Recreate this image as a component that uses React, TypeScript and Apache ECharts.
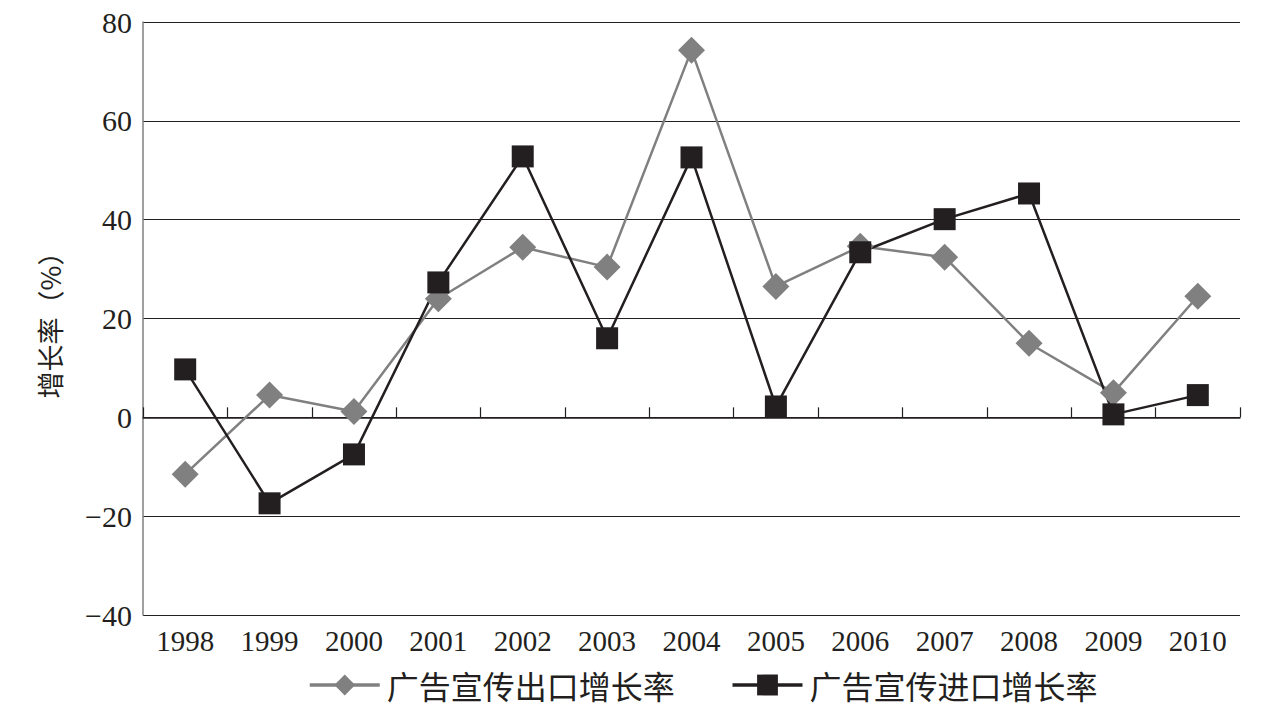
import React, { useEffect, useRef } from "react";
import * as echarts from "echarts";

const years = ["1998", "1999", "2000", "2001", "2002", "2003", "2004", "2005", "2006", "2007", "2008", "2009", "2010"];
const exportGrowth = [-11.5, 4.5, 1.2, 24, 34.4, 30.4, 74.3, 26.5, 34.6, 32.4, 15, 5, 24.5];
const importGrowth = [9.7, -17.4, -7.5, 27.3, 52.8, 16, 52.6, 2.2, 33.4, 40.1, 45.3, 0.6, 4.5];
const exportName = "广告宣传出口增长率";
const importName = "广告宣传进口增长率";
const yAxisName = "增长率（%）";

const serif = "Liberation Serif";
const cjk = "Noto Sans CJK SC";

export default function App() {
  const ref = useRef<HTMLDivElement>(null);
  useEffect(() => {
    if (!ref.current) return;
    const chart = echarts.init(ref.current, null, { renderer: "svg" });
    chart.setOption({
      animation: false,
      backgroundColor: "#ffffff",
      textStyle: { fontFamily: serif },
      grid: { left: 143, right: 42, top: 22, bottom: 105 },
      legend: {
        left: 303,
        top: 664,
        itemWidth: 70,
        itemHeight: 26,
        itemGap: 56,
        lineStyle: { width: 3.5 },
        textStyle: { fontFamily: cjk, fontSize: 32, color: "#231f20", padding: [0, 0, 0, 2] },
        data: [exportName, importName],
      },
      xAxis: [
        {
          type: "category",
          data: years,
          boundaryGap: true,
          axisLine: { show: true, onZero: true, lineStyle: { color: "#231f20", width: 1.5 } },
          axisTick: { show: true, inside: true, length: 10, lineStyle: { color: "#231f20", width: 1.2 } },
          axisLabel: { show: false },
          splitLine: { show: false },
        },
        {
          type: "category",
          data: years,
          position: "bottom",
          boundaryGap: true,
          axisLine: { show: false, onZero: false },
          axisTick: { show: false },
          axisLabel: { show: true, margin: 11, fontFamily: serif, fontSize: 29, color: "#231f20" },
          splitLine: { show: false },
        },
      ],
      yAxis: {
        type: "value",
        min: -40,
        max: 80,
        interval: 20,
        name: yAxisName,
        nameLocation: "middle",
        nameRotate: 90,
        nameGap: 80,
        nameTextStyle: { fontFamily: cjk, fontSize: 27, color: "#231f20" },
        axisLine: { show: true, lineStyle: { color: "#808080", width: 1.5 } },
        axisTick: { show: false },
        axisLabel: {
          margin: 11,
          fontFamily: serif,
          fontSize: 30,
          color: "#231f20",
          formatter: (v: number) => String(v).replace("-", "\u2212"),
        },
        splitLine: { show: true, lineStyle: { color: "#231f20", width: 1.2 } },
      },
      series: [
        {
          name: exportName,
          type: "line",
          xAxisIndex: 0,
          data: exportGrowth,
          symbol: "diamond",
          symbolSize: [27, 27],
          lineStyle: { color: "#808080", width: 2.5 },
          itemStyle: { color: "#808080" },
        },
        {
          name: importName,
          type: "line",
          xAxisIndex: 0,
          data: importGrowth,
          symbol: "rect",
          symbolSize: [22, 22],
          lineStyle: { color: "#231f20", width: 2.5 },
          itemStyle: { color: "#231f20" },
        },
      ],
    });
    return () => chart.dispose();
  }, []);
  return <div ref={ref} style={{ width: 1282, height: 720, position: "absolute", left: 0, top: 0 }} />;
}
